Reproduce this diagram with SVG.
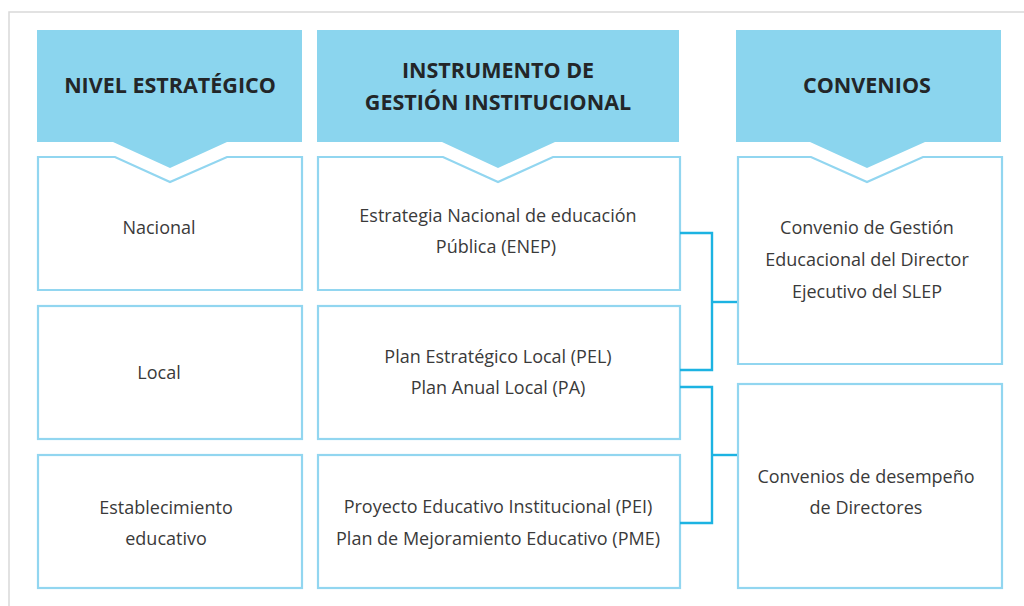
<svg xmlns="http://www.w3.org/2000/svg" width="1024" height="606" viewBox="0 0 1024 606">
<style>
.hdr{fill:#8bd5ee}
.box{fill:#ffffff;stroke:#92d6f0;stroke-width:2.2}
.ht{font-family:"Open Sans","Liberation Sans",sans-serif;font-weight:700;font-size:21.5px;fill:#232628;text-anchor:middle}
.bt{font-family:"Open Sans","Liberation Sans",sans-serif;font-size:18px;fill:#3a3a3a;text-anchor:middle}
.con{fill:none;stroke:#1cb3e2;stroke-width:2.4}
</style>
<rect x="0" y="0" width="1024" height="606" fill="#ffffff"/>
<path d="M9 606 V12 H1024" fill="none" stroke="#d9d9d9" stroke-width="1.5"/>

<g id="col1-header">
<path class="hdr" d="M37 30 H302 V142 H227 L170 168 L113 142 H37 Z"/>
<text class="ht" x="170" y="93">NIVEL ESTRATÉGICO</text>
</g>
<g id="col2-header">
<path class="hdr" d="M317 30 H679 V142 H555 L498 168 L442 142 H317 Z"/>
<text class="ht" x="498" y="78">INSTRUMENTO DE</text>
<text class="ht" x="498" y="110">GESTIÓN INSTITUCIONAL</text>
</g>
<g id="col3-header">
<path class="hdr" d="M736 30 H1001 V142 H925 L867 168 L810 142 H736 Z"/>
<text class="ht" x="867" y="93">CONVENIOS</text>
</g>

<g id="nacional">
<path class="box" d="M38 157 H115 L170 182 L227 157 H302 V290 H38 Z"/>
<text class="bt" x="159" y="234">Nacional</text>
</g>
<g id="local">
<rect class="box" x="38" y="306" width="264" height="133"/>
<text class="bt" x="159" y="379">Local</text>
</g>
<g id="establecimiento">
<rect class="box" x="38" y="455" width="264" height="133"/>
<text class="bt" x="166" y="514">Establecimiento</text>
<text class="bt" x="166" y="545">educativo</text>
</g>

<g id="enep">
<path class="box" d="M318 157 H443 L498 182 L553 157 H680 V290 H318 Z"/>
<text class="bt" x="498" y="222">Estrategia Nacional de educación</text>
<text class="bt" x="496" y="253">Pública (ENEP)</text>
</g>
<g id="pel">
<rect class="box" x="318" y="306" width="362" height="133"/>
<text class="bt" x="498" y="363">Plan Estratégico Local (PEL)</text>
<text class="bt" x="498" y="394">Plan Anual Local (PA)</text>
</g>
<g id="pei">
<rect class="box" x="318" y="455" width="362" height="133"/>
<text class="bt" x="498" y="513">Proyecto Educativo Institucional (PEI)</text>
<text class="bt" x="498" y="545">Plan de Mejoramiento Educativo (PME)</text>
</g>

<g id="convenio-gestion">
<path class="box" d="M738 157 H811 L867 182 L923 157 H1002 V364 H738 Z"/>
<text class="bt" x="867" y="234">Convenio de Gestión</text>
<text class="bt" x="867" y="266">Educacional del Director</text>
<text class="bt" x="867" y="298">Ejecutivo del SLEP</text>
</g>
<g id="convenios-directores">
<rect class="box" x="738" y="384" width="264" height="204"/>
<text class="bt" x="866" y="483">Convenios de desempeño</text>
<text class="bt" x="866" y="514">de Directores</text>
</g>

<g id="connectors">
<path class="con" d="M680 233 H712 V370 H680"/>
<path class="con" d="M712 302 H737"/>
<path class="con" d="M680 387 H712 V523 H680"/>
<path class="con" d="M712 455 H737"/>
</g>
</svg>
